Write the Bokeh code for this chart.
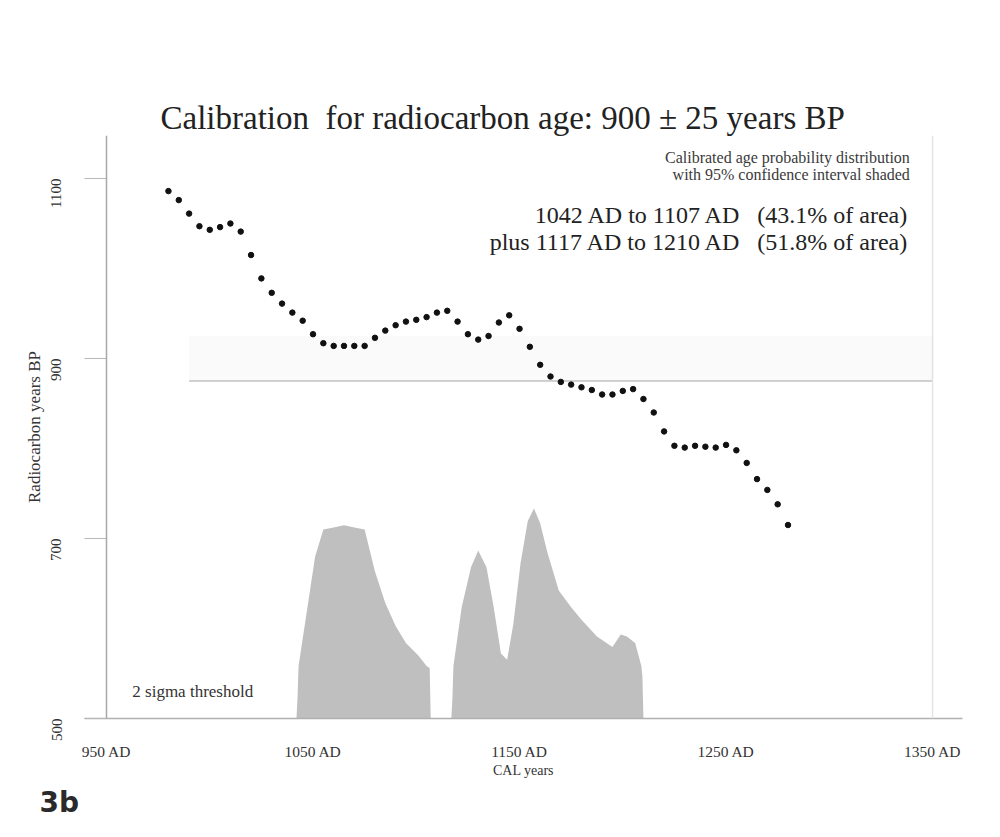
import math
from bokeh.plotting import figure
from bokeh.models import Range1d, FixedTicker, Span, Label, BoxAnnotation, Title
from bokeh.embed import file_html
from bokeh.resources import INLINE

# ---------------- data ----------------
TITLE = "Calibration\u00a0\u00a0for radiocarbon age: 900 \u00b1 25 years BP"
SAMPLE_BP = 900
SAMPLE_ERR = 25

X_TICKS = [950, 1050, 1150, 1250, 1350]
X_TICK_LABELS = ["950 AD", "1050 AD", "1150 AD", "1250 AD", "1350 AD"]
Y_TICKS = [500, 700, 900, 1100]
Y_TICK_LABELS = ["500", "700", "900", "1100"]

# calibration curve (cal AD vs radiocarbon years BP)
CURVE_AD = [980, 985, 990, 995, 1000, 1005, 1010, 1015, 1020, 1025,
            1030, 1035, 1040, 1045, 1050, 1055, 1060, 1065, 1070, 1075,
            1080, 1085, 1090, 1095, 1100, 1105, 1110, 1115, 1120, 1125,
            1130, 1135, 1140, 1145, 1150, 1155, 1160, 1165, 1170, 1175,
            1180, 1185, 1190, 1195, 1200, 1205, 1210, 1215, 1220, 1225,
            1230, 1235, 1240, 1245, 1250, 1255, 1260, 1265, 1270, 1275,
            1280]
CURVE_BP = [1086, 1076, 1061, 1047, 1043, 1046, 1050, 1041, 1015, 989,
            973, 961, 951, 942, 927, 917, 914, 914, 914, 914,
            923, 931, 937, 941, 943, 946, 951, 953, 941, 927,
            921, 925, 940, 948, 933, 913, 893, 880, 874, 871,
            868, 865, 860, 860, 864, 866, 855, 840, 819, 803,
            801, 803, 802, 801, 804, 798, 784, 766, 754, 738,
            715]

# calibrated probability (relative), first 95% range 1042-1107 AD
PROB1_AD = [1042, 1042.5, 1043, 1047, 1051, 1055, 1060, 1065, 1070, 1075,
            1080, 1085, 1090, 1095, 1101, 1105, 1106.5, 1107]
PROB1 = [0.0, 0.10, 0.25, 0.51, 0.77, 0.90, 0.91, 0.92, 0.91, 0.90,
         0.70, 0.55, 0.44, 0.36, 0.30, 0.25, 0.24, 0.0]
# second 95% range 1117-1210 AD
PROB2_AD = [1117, 1117.5, 1118, 1122, 1126.5, 1130, 1134, 1137.5, 1141, 1144,
            1147, 1150.5, 1154, 1157, 1160, 1163.5, 1169, 1175, 1180, 1187.5,
            1195, 1199, 1202, 1206, 1209, 1209.5, 1210]
PROB2 = [0.0, 0.10, 0.25, 0.53, 0.72, 0.80, 0.72, 0.53, 0.31, 0.28,
         0.45, 0.74, 0.94, 1.00, 0.93, 0.79, 0.61, 0.53, 0.47, 0.39,
         0.34, 0.40, 0.39, 0.36, 0.25, 0.20, 0.0]

NOTE_SMALL = ["Calibrated age probability distribution",
              "with 95% confidence interval shaded"]
NOTE_BIG = ["1042 AD to 1107 AD\u00a0\u00a0\u00a0(43.1% of area)",
            "plus 1117 AD to 1210 AD\u00a0\u00a0\u00a0(51.8% of area)"]
THRESH_TEXT = "2 sigma threshold"
PANEL_TAG = "3b"

SERIF = "Liberation Serif"

# ---------------- figure ----------------
p = figure(width=984, height=821,
           x_range=Range1d(939.35, 1364.5), y_range=Range1d(500, 1147.8),
           output_backend="svg", toolbar_location=None,
           min_border_left=84, min_border_right=22,
           min_border_top=135, min_border_bottom=103)
p.extra_y_ranges = {"prob": Range1d(0, 2.776)}
p.background_fill_color = "white"
p.border_fill_color = "white"
p.outline_line_color = None
p.grid.visible = False

p.title.text = TITLE
p.title.align = "left"
p.title.offset = 76
p.title.text_font = SERIF
p.title.text_font_size = "33px"
p.title.text_font_style = "normal"
p.title.text_color = "#222222"
p.title.standoff = 0

# panel tag below the axis title
p.add_layout(Title(text=PANEL_TAG, align="left", offset=-45, standoff=6,
                   text_font="DejaVu Sans", text_font_size="28px",
                   text_font_style="bold", text_color="#2a2a2a"), "below")

# x axis
xa = p.xaxis[0]
xa.ticker = FixedTicker(ticks=X_TICKS)
xa.major_label_overrides = dict(zip(X_TICKS, X_TICK_LABELS))
xa.axis_label = "CAL years"
xa.axis_label_text_font = SERIF
xa.axis_label_text_font_size = "14px"
xa.axis_label_text_font_style = "normal"
xa.axis_label_text_color = "#333333"
xa.axis_label_standoff = 0
xa.major_label_text_font = SERIF
xa.major_label_text_font_size = "15.5px"
xa.major_label_text_color = "#333333"
xa.major_label_standoff = 24
xa.axis_line_color = "#b0b0b0"
xa.axis_line_width = 1.5
xa.major_tick_in = 0
xa.major_tick_out = 0
xa.minor_tick_line_color = None

# y axis
ya = p.yaxis[0]
ya.ticker = FixedTicker(ticks=Y_TICKS)
ya.major_label_overrides = dict(zip(Y_TICKS, Y_TICK_LABELS))
ya.major_label_orientation = math.pi / 2
ya.axis_label = "Radiocarbon years BP"
ya.axis_label_text_font = SERIF
ya.axis_label_text_font_size = "17px"
ya.axis_label_text_font_style = "normal"
ya.axis_label_text_color = "#333333"
ya.axis_label_standoff = 0
ya.major_label_text_font = SERIF
ya.major_label_text_font_size = "15px"
ya.major_label_text_color = "#333333"
ya.major_label_standoff = 28
ya.axis_line_color = None
ya.major_tick_in = 22
ya.major_tick_out = 0
ya.major_tick_line_color = "#b8b8b8"
ya.minor_tick_line_color = None

# axis frame lines
p.add_layout(Span(location=X_TICKS[0], dimension="height", line_color="#a8a8a8", line_width=1.5))
p.add_layout(Span(location=X_TICKS[-1], dimension="height", line_color="#e4e4e4", line_width=1.5))

# measured age band
p.add_layout(BoxAnnotation(bottom=SAMPLE_BP - SAMPLE_ERR, top=SAMPLE_BP + SAMPLE_ERR,
                           left=990, right=X_TICKS[-1],
                           fill_color="#000000", fill_alpha=0.02, line_color=None))
p.segment(x0=[990], y0=[SAMPLE_BP - SAMPLE_ERR], x1=[X_TICKS[-1]], y1=[SAMPLE_BP - SAMPLE_ERR],
          line_color="#c4c4c4", line_width=1.5)

# probability distribution (95% ranges shaded)
p.varea(x=PROB1_AD, y1=0, y2=PROB1, y_range_name="prob", fill_color="#bfbfbf")
p.varea(x=PROB2_AD, y1=0, y2=PROB2, y_range_name="prob", fill_color="#bfbfbf")

# calibration curve dots
p.scatter(x=CURVE_AD, y=CURVE_BP, size=5.5, marker="circle",
          fill_color="#111111", line_color="#111111")

# annotations
for txt, yv in zip(NOTE_SMALL, [1123, 1104]):
    p.add_layout(Label(x=1339, y=yv, text=txt, text_align="right", text_baseline="middle",
                       text_font=SERIF, text_font_size="16px", text_color="#3a3a3a"))
for txt, yv in zip(NOTE_BIG, [1059, 1029]):
    p.add_layout(Label(x=1339, y=yv, text=txt, text_align="right", text_baseline="middle",
                       text_font=SERIF, text_font_size="24px", text_color="#222222"))
p.add_layout(Label(x=962.5, y=530, text=THRESH_TEXT, text_align="left", text_baseline="middle",
                   text_font=SERIF, text_font_size="17px", text_color="#333333"))

open("out.html", "w").write(file_html(p, INLINE))
